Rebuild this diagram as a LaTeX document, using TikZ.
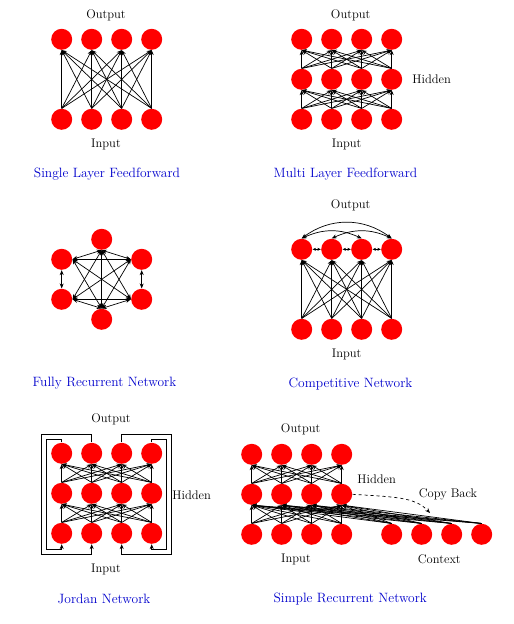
\documentclass[tikz,border=0pt]{standalone}
\usetikzlibrary{arrows.meta}
\definecolor{netred}{RGB}{255,0,0}
\definecolor{capblue}{RGB}{0,0,204}

\begin{document}
\begin{tikzpicture}[x=1pt, y=-1pt, line width=.7pt,
                    >={Stealth[length=5pt,width=4pt]},
                    unit/.style={circle, fill=netred, minimum size=21pt, inner sep=0pt},
                    lbl/.style={font=\fontsize{12.5}{14}\selectfont},
                    title/.style={font=\fontsize{13.5}{16}\selectfont, text=capblue}]
  \useasboundingbox (0,0) rectangle (514,624);

  % single layer feedforward
  \foreach \i in {1,...,4} {
    \node[unit] (a-o\i) at (31.7+30*\i,39.3) {};
    \node[unit] (a-i\i) at (31.7+30*\i,119.3) {};
  }
  \foreach \i in {1,...,4}
    \foreach \j in {1,...,4}
      \draw[->] (a-i\i.north) -- (a-o\j.south);
  \node[lbl] (a-out) at (106,15) {Output};
  \node[lbl] (a-in) at (106,144) {Input};
  \node[title] (a-cap) at (107,174) {Single Layer Feedforward};

  % multi layer feedforward
  \foreach \i in {1,...,4} {
    \node[unit] (b-o\i) at (271.7+30*\i,39.3) {};
    \node[unit] (b-h\i) at (271.7+30*\i,79.3) {};
    \node[unit] (b-i\i) at (271.7+30*\i,119.3) {};
  }
  \foreach \i in {1,...,4}
    \foreach \j in {1,...,4} {
      \draw[->] (b-i\i.north) -- (b-h\j.south);
      \draw[->] (b-h\i.north) -- (b-o\j.south);
    }
  \node[lbl] (b-out) at (350.7,15) {Output};
  \node[lbl] (b-hid) at (431.7,79) {Hidden};
  \node[lbl] (b-in) at (346.7,144) {Input};
  \node[title] (b-cap) at (345.5,174) {Multi Layer Feedforward};

  % fully recurrent
  \node[unit] (c-t) at (101.7,239.3) {};
  \node[unit] (c-ul) at (61.7,259.3) {};
  \node[unit] (c-ur) at (141.7,259.3) {};
  \node[unit] (c-ll) at (61.7,299.3) {};
  \node[unit] (c-lr) at (141.7,299.3) {};
  \node[unit] (c-b) at (101.7,319.3) {};
  \foreach \a/\b in {t.south/ul.east, t.south/ur.west, t.south/ll.east, t.south/lr.west,
                     t.south/b.north, ul.east/ur.west, ul.south/ll.north, ul.east/lr.west,
                     ul.east/b.north, ur.west/ll.east, ur.south/lr.north, ur.west/b.north,
                     ll.east/lr.west, ll.east/b.north, lr.west/b.north}
    \draw[<->] (c-\a) -- (c-\b);
  \node[title] (c-cap) at (104.5,383.5) {Fully Recurrent Network};

  % competitive
  \foreach \i in {1,...,4} {
    \node[unit] (d-o\i) at (271.7+30*\i,249.3) {};
    \node[unit] (d-i\i) at (271.7+30*\i,329.3) {};
  }
  \foreach \i in {1,...,4}
    \foreach \j in {1,...,4}
      \draw[->] (d-i\i.north) -- (d-o\j.south);
  \foreach \i/\j in {1/2, 2/3, 3/4}
    \draw[<->, >={Stealth[length=3.5pt,width=3pt]}] (d-o\i.east) -- (d-o\j.west);
  \draw[<->] (d-o1.north) to[bend left=37] (d-o4.north);
  \draw[<->] (d-o1.north) to[bend left=25] (d-o3.north);
  \draw[<->] (d-o2.north) to[bend left=25] (d-o4.north);
  \node[lbl] (d-out) at (350.7,205) {Output};
  \node[lbl] (d-in) at (346.7,354) {Input};
  \node[title] (d-cap) at (350.5,384) {Competitive Network};

  % jordan
  \foreach \i in {1,...,4} {
    \node[unit] (e-o\i) at (31.7+30*\i,453.3) {};
    \node[unit] (e-h\i) at (31.7+30*\i,493.3) {};
    \node[unit] (e-i\i) at (31.7+30*\i,533.3) {};
  }
  \foreach \i in {1,...,4}
    \foreach \j in {1,...,4} {
      \draw[->] (e-i\i.north) -- (e-h\j.south);
      \draw[->] (e-h\i.north) -- (e-o\j.south);
    }
  \draw[->] (e-o1.north) |- (46.7,439.3) |- (61.7,549.3) -- (e-i1.south);
  \draw[->] (e-o2.north) |- (41.7,434.3) |- (91.7,554) -- (e-i2.south);
  \draw[->] (e-o3.north) |- (171.7,434.3) |- (121.7,554) -- (e-i3.south);
  \draw[->] (e-o4.north) |- (166.7,439.3) |- (151.7,549.3) -- (e-i4.south);
  \node[lbl] (e-out) at (111,419) {Output};
  \node[lbl] (e-hid) at (191.7,495) {Hidden};
  \node[lbl] (e-in) at (106,569) {Input};
  \node[title] (e-cap) at (104,599.3) {Jordan Network};

  % simple recurrent
  \foreach \i in {1,...,4} {
    \node[unit] (f-o\i) at (221.7+30*\i,454.3) {};
    \node[unit] (f-h\i) at (221.7+30*\i,494.3) {};
    \node[unit] (f-i\i) at (221.7+30*\i,534.3) {};
    \node[unit] (f-c\i) at (361.7+30*\i,534.3) {};
  }
  \foreach \i in {1,...,4}
    \foreach \j in {1,...,4} {
      \draw[->] (f-i\i.north) -- (f-h\j.south);
      \draw[->] (f-h\i.north) -- (f-o\j.south);
      \draw[->] (f-c\i.north) -- (f-h\j.south);
    }
  \coordinate (f-cb) at (430,513);
  \draw[dashed, ->] (f-h4.east) .. controls (395,497) and (415,497) .. (f-cb);
  \node[lbl] (f-out) at (300.7,429.3) {Output};
  \node[lbl] (f-hid) at (376.7,479.3) {Hidden};
  \node[lbl] (f-copy) at (448,494.3) {Copy Back};
  \node[lbl] (f-in) at (296,559.3) {Input};
  \node[lbl] (f-ctx) at (439.3,559.3) {Context};
  \node[title] (f-cap) at (350.3,599.3) {Simple Recurrent Network};
\end{tikzpicture}
\end{document}
